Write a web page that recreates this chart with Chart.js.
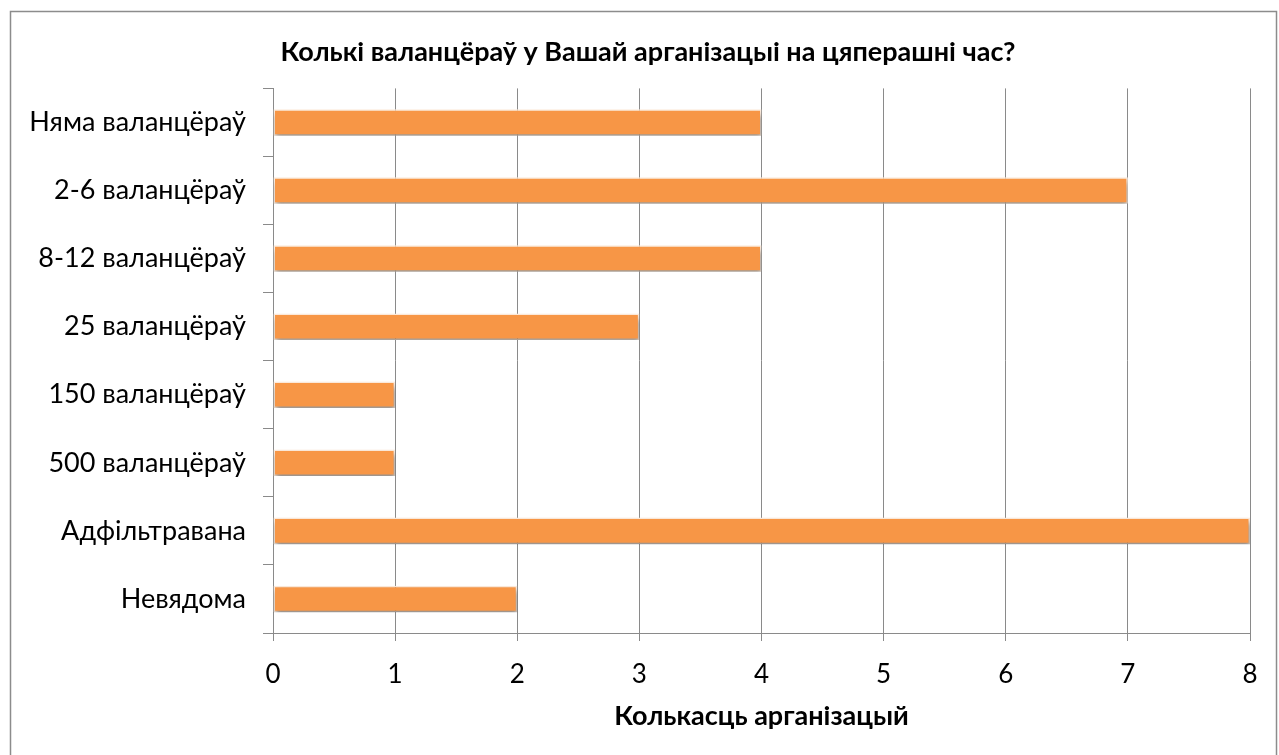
<!DOCTYPE html>
<html>
<head>
<meta charset="utf-8">
<title>Колькі валанцёраў</title>
<script src="https://cdn.jsdelivr.net/npm/chart.js@4.4.0/dist/chart.umd.min.js"></script>
<style>
  html, body { margin: 0; padding: 0; background: #fff; }
  canvas { display: block; }
</style>
</head>
<body>
<canvas id="volunteersChart" width="1279" height="755"></canvas>
<script>
// Data
const categories = ['Няма валанцёраў', '2-6 валанцёраў', '8-12 валанцёраў', '25 валанцёраў',
                    '150 валанцёраў', '500 валанцёраў', 'Адфільтравана', 'Невядома'];
const orgCounts = [4, 7, 4, 3, 1, 1, 8, 2];
const xTicks = [0, 1, 2, 3, 4, 5, 6, 7, 8];

const chartTitle = 'Колькі валанцёраў у Вашай арганізацыі на цяперашні час?';
const xAxisTitle = 'Колькасць арганізацый';

const FONT = 'Lato, "Open Sans", sans-serif';
const GRID = '#8a8a8a';

// outer frame around the whole chart, like the Excel chart border
const framePlugin = {
    id: 'frame',
    afterLayout(chart) {
        // centre the title on the frame, not on the padded layout box
        if (chart.titleBlock) {
            chart.titleBlock.left += 46;
        }
    },
    afterDraw(chart) {
        const ctx = chart.ctx;
        ctx.save();
        ctx.strokeStyle = '#8c8c8c';
        ctx.lineWidth = 1.5;
        ctx.strokeRect(10.5, 11.5, 1266, 800);
        ctx.restore();
    }
};

// soft drop shadow under the bars
const barShadow = {
    id: 'barShadow',
    beforeDatasetsDraw(chart) {
        const ctx = chart.ctx;
        ctx.save();
        ctx.shadowColor = 'rgba(0,0,0,0.4)';
        ctx.shadowBlur = 5;
        ctx.shadowOffsetX = 1;
        ctx.shadowOffsetY = 4;
    },
    afterDatasetsDraw(chart) {
        chart.ctx.restore();
    }
};

const ctx = document.getElementById('volunteersChart').getContext('2d');
const volunteersChart = new Chart(ctx, {
    type: 'bar',
    data: {
        labels: categories,
        datasets: [{
            data: orgCounts,
            backgroundColor: '#F79646',
            borderColor: '#FDEBDC',
            borderWidth: 1.5,
            borderSkipped: false,
            barPercentage: 0.39,
            categoryPercentage: 1
        }]
    },
    options: {
        indexAxis: 'y',
        responsive: false,
        animation: false,
        layout: {
            padding: { left: 0, right: 29, top: 0, bottom: 0 }
        },
        plugins: {
            legend: { display: false },
            tooltip: { enabled: false },
            title: {
                display: true,
                text: chartTitle,
                color: '#000',
                font: { family: FONT, size: 27, weight: 'bold' },
                padding: { top: 36, bottom: 20 }
            }
        },
        scales: {
            x: {
                min: 0,
                max: 8,
                afterBuildTicks(scale) {
                    scale.ticks = xTicks.map(v => ({ value: v }));
                },
                afterFit(scale) {
                    scale.height = 122;
                },
                grid: {
                    color: GRID,
                    lineWidth: 1,
                    drawTicks: true,
                    tickLength: 8
                },
                border: { color: GRID, width: 1 },
                ticks: {
                    color: '#000',
                    padding: 18,
                    font: { family: FONT, size: 26 }
                },
                title: {
                    display: true,
                    text: xAxisTitle,
                    color: '#000',
                    font: { family: FONT, size: 27, weight: 'bold' },
                    padding: { top: 0, bottom: 23 }
                }
            },
            y: {
                afterFit(scale) {
                    scale.width = 273;
                },
                grid: {
                    drawOnChartArea: false,
                    drawTicks: true,
                    tickLength: 10,
                    color: GRID
                },
                border: { color: GRID, width: 1 },
                ticks: {
                    color: '#000',
                    padding: 17,
                    font: { family: FONT, size: 27 }
                }
            }
        }
    },
    plugins: [framePlugin, barShadow]
});
</script>
</body>
</html>
